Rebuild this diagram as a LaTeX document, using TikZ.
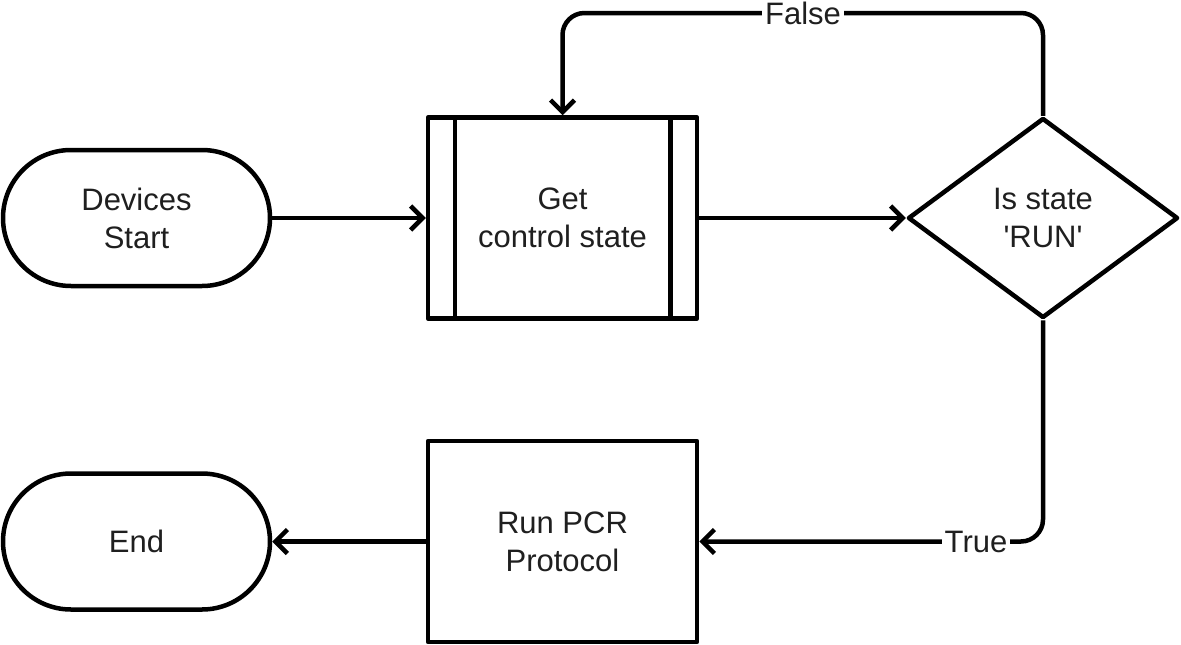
\documentclass[tikz,border=0pt]{standalone}
\usepackage{fontspec}
\setmainfont{Liberation Sans}
\usetikzlibrary{shapes.geometric,shapes.misc,arrows.meta}
\begin{document}
\begin{tikzpicture}[x=1pt,y=-1pt,
  every node/.style={font=\fontsize{31}{38}\selectfont, text=black!88, align=center},
  base/.style={draw, line width=4.5pt, line join=round, fill=white},
  term/.style={base, rounded rectangle, minimum width=267pt, minimum height=136pt, inner sep=0pt},
  procbox/.style={base, rectangle, minimum width=269pt, minimum height=201pt, inner sep=0pt},
  decbox/.style={base, diamond, minimum width=270pt, minimum height=200pt, inner sep=0pt},
  conn/.style={line width=4.5pt, -{Straight Barb[length=12pt,width=24pt,line width=4.5pt]}, rounded corners=22pt},
  lbl/.style={fill=white, inner sep=3pt}
]
\useasboundingbox (0,0) rectangle (1181,645);
\node[term] (start) at (136.5,218) {Devices\\Start};
\node[procbox] (get) at (562.5,218) {Get\\control state};
\node[decbox] (dec) at (1043,218) {Is state\\\textquotesingle RUN\textquotesingle};
\node[procbox] (run) at (562.5,541.5) {Run PCR\\Protocol};
\node[term] (end) at (136.5,541.5) {End};
\draw[line width=4.5pt] ([xshift=29pt]get.north west) -- ([xshift=29pt]get.south west);
\draw[line width=4.5pt] ([xshift=-29pt]get.north east) -- ([xshift=-29pt]get.south east);
\coordinate (top) at (803,13);
\draw[conn] (start.east) -- (get.west);
\draw[conn] (get.east) -- (dec.west);
\draw[conn] (dec.north) |- (top) -| (get.north);
\node[lbl] (flbl) at (top) {False};
\draw[conn] (dec.south) |- (run.east);
\node[lbl] (tlbl) at (976,541.5) {True};
\draw[conn] (run.west) -- (end.east);
\end{tikzpicture}
\end{document}
